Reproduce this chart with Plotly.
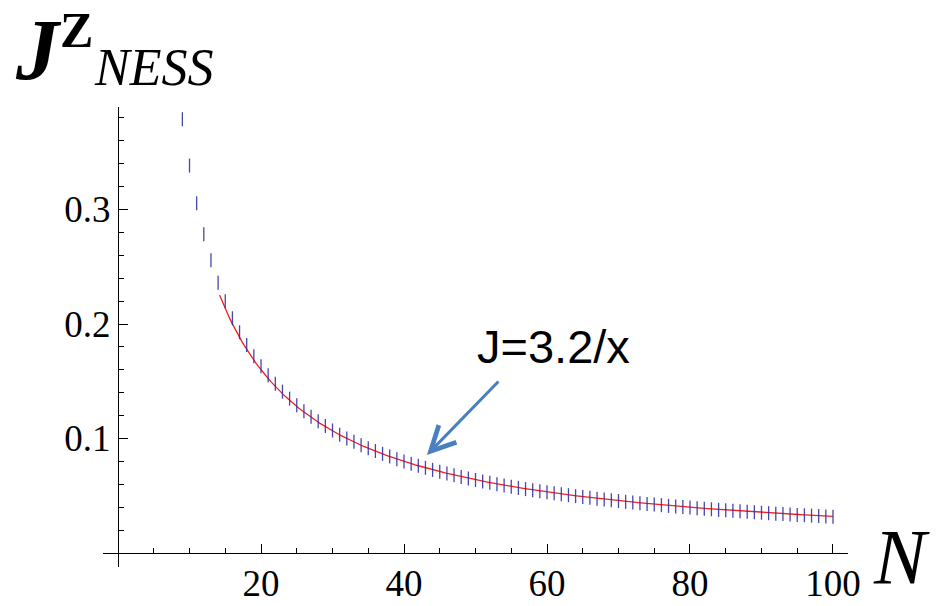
import plotly.graph_objects as go
import numpy as np

# ---- data ----
N_values = list(range(9, 101))
J_values = [
    0.3788, 0.3383, 0.3054, 0.2783, 0.2556, 0.2361, 0.2198, 0.2050, 0.1928, 0.1817,  # 9-18
    0.1718, 0.1631, 0.1552, 0.1479, 0.1409, 0.1348, 0.1290, 0.1238, 0.1190, 0.1150,  # 19-28
    0.1109, 0.1070, 0.1033, 0.1000, 0.0971, 0.0941, 0.0915, 0.0891, 0.0866, 0.0842,  # 29-38
    0.0820, 0.0799, 0.0780, 0.0762, 0.0744, 0.0726, 0.0710, 0.0694, 0.0679, 0.0665,  # 39-48
    0.0651, 0.0638, 0.0625, 0.0613, 0.0601, 0.0590, 0.0579, 0.0569, 0.0558, 0.0549,  # 49-58
    0.0539, 0.0530, 0.0521, 0.0513, 0.0505, 0.0497, 0.0489, 0.0482, 0.0474, 0.0467,  # 59-68
    0.0460, 0.0454, 0.0447, 0.0441, 0.0435, 0.0429, 0.0423, 0.0418, 0.0412, 0.0407,  # 69-78
    0.0402, 0.0397, 0.0392, 0.0387, 0.0382, 0.0377, 0.0373, 0.0369, 0.0364, 0.0360,  # 79-88
    0.0356, 0.0352, 0.0348, 0.0344, 0.0341, 0.0337, 0.0333, 0.0330, 0.0327, 0.0323,  # 89-98
    0.0320, 0.0317,                                                                  # 99-100
]

FIT_COEF = 3.2
FIT_X_START = 14.2
FIT_X_END = 100.0

x_ticks = [20, 40, 60, 80, 100]
y_ticks = [0.1, 0.2, 0.3]
y_tick_labels = ["0.1", "0.2", "0.3"]

x_range = [-2.1, 102.1]
y_range = [-0.0122, 0.3895]

fit_x = np.linspace(FIT_X_START, FIT_X_END, 300)
fit_y = FIT_COEF / fit_x

# ---- figure ----
fig = go.Figure()

fig.add_trace(go.Scatter(
    x=fit_x, y=fit_y, mode="lines",
    line=dict(color="#ff1a1a", width=1.3),
    hoverinfo="skip", showlegend=False,
))

fig.add_trace(go.Scatter(
    x=N_values, y=J_values, mode="markers",
    marker=dict(symbol="line-ns", size=10,
                line=dict(color="rgba(50,50,160,0.9)", width=1.3)),
    showlegend=False,
))

L, R, T, B = 103, 90, 107, 39
W, H = 938, 606
pw, ph = W - L - R, H - T - B

def px2paper(px, py):
    return (px - L) / pw, (H - B - py) / ph

x_axis_pos = (0 - y_range[0]) / (y_range[1] - y_range[0])
y_axis_pos = (0 - x_range[0]) / (x_range[1] - x_range[0])

tick_font = dict(family="Liberation Serif", size=37, color="black")

fig.update_layout(
    width=W, height=H,
    margin=dict(l=L, r=R, t=T, b=B, autoexpand=False),
    paper_bgcolor="white", plot_bgcolor="white",
    xaxis=dict(
        range=x_range, anchor="free", position=x_axis_pos, automargin=False,
        showgrid=False, zeroline=False,
        showline=True, linecolor="black", linewidth=1,
        ticks="inside", ticklen=9, tickwidth=1, tickcolor="black",
        tickvals=x_ticks, tickfont=tick_font, ticklabelstandoff=-2,
        minor=dict(ticks="inside", ticklen=5, tickwidth=1, tickcolor="black",
                   dtick=5, tick0=0, showgrid=False),
    ),
    yaxis=dict(
        range=y_range, anchor="free", position=y_axis_pos, automargin=False,
        showgrid=False, zeroline=False,
        showline=True, linecolor="black", linewidth=1,
        ticks="inside", ticklen=9, tickwidth=1, tickcolor="black",
        tickvals=y_ticks, ticktext=y_tick_labels, tickfont=tick_font,
        minor=dict(ticks="inside", ticklen=5, tickwidth=1, tickcolor="black",
                   dtick=0.02, tick0=0, showgrid=False),
    ),
)

annotations = []
# y-axis label: J^Z_NESS (anchored to the top edge of the figure)
ax_, ay_ = px2paper(38, 0)
annotations.append(dict(text="<b><i>J</i></b>", x=ax_, y=ay_, xref="paper", yref="paper",
                        showarrow=False, xanchor="center", yanchor="top",
                        font=dict(family="Liberation Serif", size=86, color="black")))
ax_, ay_ = px2paper(76, 0)
annotations.append(dict(text="<b>Z</b>", x=ax_, y=ay_, xref="paper", yref="paper",
                        showarrow=False, xanchor="center", yanchor="top",
                        font=dict(family="Liberation Serif", size=50, color="black")))
ax_, ay_ = px2paper(153, 68)
annotations.append(dict(text="<i>NESS</i>", x=ax_, y=ay_, xref="paper", yref="paper",
                        showarrow=False, xanchor="center", yanchor="middle",
                        font=dict(family="Liberation Serif", size=52, color="black")))
# x-axis label: N
ax_, ay_ = px2paper(901, 556)
annotations.append(dict(text="<i>N</i>", x=ax_, y=ay_, xref="paper", yref="paper",
                        showarrow=False, xanchor="center", yanchor="middle",
                        font=dict(family="Liberation Serif", size=78, color="black")))
# fit label
ax_, ay_ = px2paper(553, 346)
annotations.append(dict(text="J=3.2/x", x=ax_, y=ay_, xref="paper", yref="paper",
                        showarrow=False, xanchor="center", yanchor="middle",
                        font=dict(family="Liberation Sans", size=47, color="black")))
# arrow
annotations.append(dict(text="", x=43.2, y=0.0856, xref="x", yref="y",
                        showarrow=True, ax=73, ay=-75, axref="pixel", ayref="pixel",
                        arrowhead=5, arrowsize=1.6, arrowwidth=3, arrowcolor="#4a7fc1"))

fig.update_layout(annotations=annotations)

fig.write_html("out.html")
